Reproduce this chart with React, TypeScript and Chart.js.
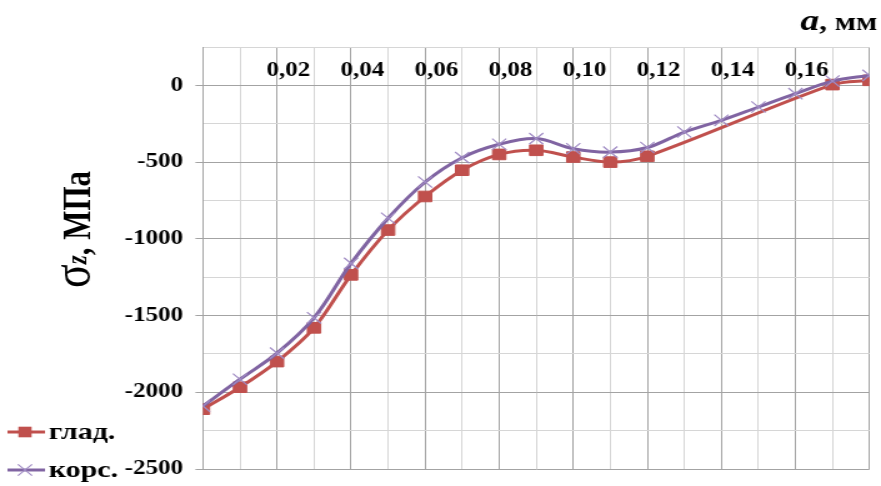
import React, { useEffect, useRef } from 'react';
import { Chart, registerables } from 'chart.js';

Chart.register(...registerables);

// Depth a, mm
const A_MM = [0, 0.01, 0.02, 0.03, 0.04, 0.05, 0.06, 0.07, 0.08, 0.09, 0.1, 0.11, 0.12, 0.13, 0.14, 0.15, 0.16, 0.17, 0.18];

// σz, MPa — smooth surface ("глад.")
const SMOOTH = [-2110, -1967, -1800, -1580, -1235, -943, -724, -553, -450, -423, -467, -500, -462, null, null, null, null, 5, 33];

// σz, MPa — corrugated surface ("корс.")
const CORS = [-2090, -1915, -1745, -1515, -1160, -866, -630, -471, -384, -347, -413, -435, -405, -304, -228, -141, -54, 28, 65];

const SERIES_LABELS = ['глад.', 'корс.'];
const SERIES_COLORS = ['#C0504D', '#8064A2'];

const X_TICK_LABELS = ['0,02', '0,04', '0,06', '0,08', '0,10', '0,12', '0,14', '0,16'];
const Y_TICK_LABELS = [0, -500, -1000, -1500, -2000, -2500];

// Drawing surface is rendered narrower and widened by CSS.
const SURFACE_W = 705;
const SURFACE_H = 486;
const SHOWN_W = 881;

const SERIF = '"Liberation Serif", "Times New Roman", serif';
const MAJOR_GRID = '#a3a3a3';
const MINOR_GRID = '#d6d6d6';

const yTitlePlugin = {
  id: 'yTitle',
  afterDraw(chart: any) {
    const ctx = chart.ctx;
    ctx.save();
    ctx.translate(72, 288);
    ctx.rotate(-Math.PI / 2);
    ctx.fillStyle = '#000';
    ctx.textBaseline = 'alphabetic';
    ctx.textAlign = 'left';
    let x = 0;
    ctx.font = `44px ${SERIF}`;
    ctx.fillText('σ', x, 0);
    x += ctx.measureText('σ').width;
    ctx.font = `italic bold 23px ${SERIF}`;
    ctx.fillText('z', x, -3);
    x += ctx.measureText('z').width;
    ctx.font = `bold 31px ${SERIF}`;
    ctx.fillText(', МПа', x, 0);
    ctx.restore();
  },
};

const xTitlePlugin = {
  id: 'xTitle',
  afterDraw(chart: any) {
    const ctx = chart.ctx;
    ctx.save();
    ctx.fillStyle = '#000';
    ctx.textBaseline = 'alphabetic';
    ctx.textAlign = 'right';
    const right = 702;
    ctx.font = `bold 25px ${SERIF}`;
    const rest = ', мм';
    ctx.fillText(rest, right, 30);
    const w = ctx.measureText(rest).width;
    ctx.font = `italic bold 30px ${SERIF}`;
    ctx.fillText('a', right - w, 30);
    ctx.restore();
  },
};

const legendPlugin = {
  id: 'sideLegend',
  afterDraw(chart: any) {
    const ctx = chart.ctx;
    const rows = [432, 470];
    ctx.save();
    chart.data.datasets.forEach((ds: any, i: number) => {
      const y = rows[i];
      ctx.strokeStyle = ds.borderColor;
      ctx.lineWidth = 3;
      ctx.beginPath();
      ctx.moveTo(6, y);
      ctx.lineTo(36, y);
      ctx.stroke();
      const cx = 20;
      if (ds.pointStyle === 'rect') {
        const s = ds.pointRadius * Math.SQRT1_2;
        ctx.fillStyle = ds.pointBackgroundColor;
        ctx.fillRect(cx - s, y - s, 2 * s, 2 * s);
      } else {
        const o = ds.pointRadius * Math.SQRT1_2;
        ctx.strokeStyle = ds.pointBorderColor;
        ctx.lineWidth = ds.pointBorderWidth;
        ctx.beginPath();
        ctx.moveTo(cx - o, y - o);
        ctx.lineTo(cx + o, y + o);
        ctx.moveTo(cx - o, y + o);
        ctx.lineTo(cx + o, y - o);
        ctx.stroke();
      }
      ctx.fillStyle = '#000';
      ctx.font = `bold 24px ${SERIF}`;
      ctx.textBaseline = 'middle';
      ctx.textAlign = 'left';
      ctx.fillText(ds.label, 39, y + 1);
    });
    ctx.restore();
  },
};

export default function App() {
  const canvasRef = useRef<HTMLCanvasElement | null>(null);

  useEffect(() => {
    const canvas = canvasRef.current;
    if (!canvas) return;

    const toPoints = (vals: (number | null)[]) => A_MM.map((x, i) => ({ x, y: vals[i] }));

    const chart = new Chart(canvas, {
      type: 'line',
      data: {
        datasets: [
          {
            label: SERIES_LABELS[0],
            data: toPoints(SMOOTH),
            borderColor: SERIES_COLORS[0],
            backgroundColor: SERIES_COLORS[0],
            borderWidth: 3,
            pointStyle: 'rect',
            pointRadius: 7.5,
            pointBackgroundColor: SERIES_COLORS[0],
            pointBorderColor: SERIES_COLORS[0],
            pointBorderWidth: 1,
            tension: 0.3,
            spanGaps: true,
            order: 1,
          },
          {
            label: SERIES_LABELS[1],
            data: toPoints(CORS),
            borderColor: SERIES_COLORS[1],
            backgroundColor: SERIES_COLORS[1],
            borderWidth: 3,
            pointStyle: 'crossRot',
            pointRadius: 8,
            pointBackgroundColor: '#a08cc4',
            pointBorderColor: '#a08cc4',
            pointBorderWidth: 1.2,
            tension: 0.35,
            order: 0,
          },
        ] as any,
      },
      options: {
        responsive: false,
        animation: false,
        devicePixelRatio: 1,
        layout: { padding: { top: 47, bottom: 17, left: 0, right: 3 } },
        plugins: {
          legend: { display: false },
          tooltip: { enabled: false },
        },
        scales: {
          x: {
            type: 'linear',
            position: { y: 0 } as any,
            min: 0,
            max: 0.18,
            ticks: {
              stepSize: 0.01,
              autoSkip: false,
              maxRotation: 0,
              padding: -27,
              labelOffset: 9,
              color: '#000',
              font: { family: SERIF, size: 20, weight: 'bold' },
              callback: (v: any) => {
                const k = Math.round(Number(v) * 100);
                if (k % 2 === 0 && k >= 2 && k <= 16) return X_TICK_LABELS[k / 2 - 1];
                return '';
              },
            },
            grid: {
              drawTicks: false,
              lineWidth: 1,
              color: (c: any) => {
                const k = Math.round((c.tick?.value ?? 0) * 100);
                return k % 2 === 0 ? MAJOR_GRID : MINOR_GRID;
              },
            },
            border: { display: true, color: MAJOR_GRID },
          },
          y: {
            type: 'linear',
            min: -2500,
            max: 250,
            afterFit: (s: any) => {
              s.width = 162.4;
              s.paddingTop = 0;
              s.paddingBottom = 0;
            },
            ticks: {
              stepSize: 250,
              autoSkip: false,
              padding: 10,
              color: '#000',
              font: { family: SERIF, size: 20, weight: 'bold' },
              callback: (v: any) => (Y_TICK_LABELS.includes(Number(v)) ? String(v) : ''),
            },
            grid: {
              tickLength: 6,
              lineWidth: 1,
              color: (c: any) => (Math.round(c.tick?.value ?? 0) % 500 === 0 ? MAJOR_GRID : MINOR_GRID),
              tickColor: (c: any) =>
                Y_TICK_LABELS.includes(Math.round(c.tick?.value ?? 1)) ? MAJOR_GRID : 'rgba(0,0,0,0)',
            },
            border: { display: true, color: MAJOR_GRID },
          },
        },
      } as any,
      plugins: [yTitlePlugin, xTitlePlugin, legendPlugin],
    });

    return () => chart.destroy();
  }, []);

  return (
    <div style={{ position: 'absolute', left: 0, top: 0, width: SHOWN_W, height: SURFACE_H, background: '#fff' }}>
      <canvas
        ref={canvasRef}
        width={SURFACE_W}
        height={SURFACE_H}
        style={{ width: `${SHOWN_W}px`, height: `${SURFACE_H}px`, display: 'block' }}
      />
    </div>
  );
}
